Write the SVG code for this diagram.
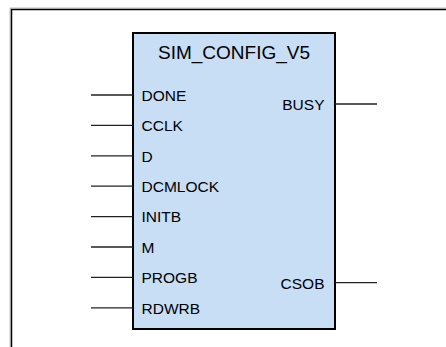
<svg xmlns="http://www.w3.org/2000/svg" width="446" height="347" viewBox="0 0 446 347">
<style>
.frame{fill:none;stroke:#000;stroke-width:1.5}
.shadow{fill:none;stroke:#bbb;stroke-width:1}
.box{fill:#c8def5;stroke:#000;stroke-width:2}
.pin{stroke:#222;stroke-width:1.3}
.t{font-family:"Liberation Sans",Arial,sans-serif;fill:#000}
.lbl{font-size:15.5px}
.title{font-size:19px;text-anchor:middle}
.r{text-anchor:end}
</style>
<rect width="446" height="347" fill="#fff"/>
<path class="shadow" d="M10,347 V8 H446"/>
<path class="frame" d="M11.5,347 V9.5 H446"/>
<g id="block">
<rect class="box" x="133" y="33" width="202" height="296"/>
<text class="t title" x="234" y="59">SIM_CONFIG_V5</text>
</g>
<g id="connectors">
<line class="pin" x1="91" y1="95" x2="133" y2="95"/>
<line class="pin" x1="91" y1="125.4" x2="133" y2="125.4"/>
<line class="pin" x1="91" y1="155.8" x2="133" y2="155.8"/>
<line class="pin" x1="91" y1="186.2" x2="133" y2="186.2"/>
<line class="pin" x1="91" y1="216.6" x2="133" y2="216.6"/>
<line class="pin" x1="91" y1="247" x2="133" y2="247"/>
<line class="pin" x1="91" y1="277.4" x2="133" y2="277.4"/>
<line class="pin" x1="91" y1="307.8" x2="133" y2="307.8"/>
<line class="pin" x1="335" y1="104" x2="377" y2="104"/>
<line class="pin" x1="335" y1="282.7" x2="377" y2="282.7"/>
</g>
<g id="pin-DONE"><text class="t lbl" x="141.5" y="100.8">DONE</text></g>
<g id="pin-CCLK"><text class="t lbl" x="141.5" y="131.2">CCLK</text></g>
<g id="pin-D"><text class="t lbl" x="141.5" y="161.6">D</text></g>
<g id="pin-DCMLOCK"><text class="t lbl" x="141.5" y="192">DCMLOCK</text></g>
<g id="pin-INITB"><text class="t lbl" x="141.5" y="222.4">INITB</text></g>
<g id="pin-M"><text class="t lbl" x="141.5" y="252.8">M</text></g>
<g id="pin-PROGB"><text class="t lbl" x="141.5" y="283.2">PROGB</text></g>
<g id="pin-RDWRB"><text class="t lbl" x="141.5" y="313.6">RDWRB</text></g>
<g id="pin-BUSY"><text class="t lbl r" x="324.5" y="109.5">BUSY</text></g>
<g id="pin-CSOB"><text class="t lbl r" x="324.5" y="288.5">CSOB</text></g>
</svg>
